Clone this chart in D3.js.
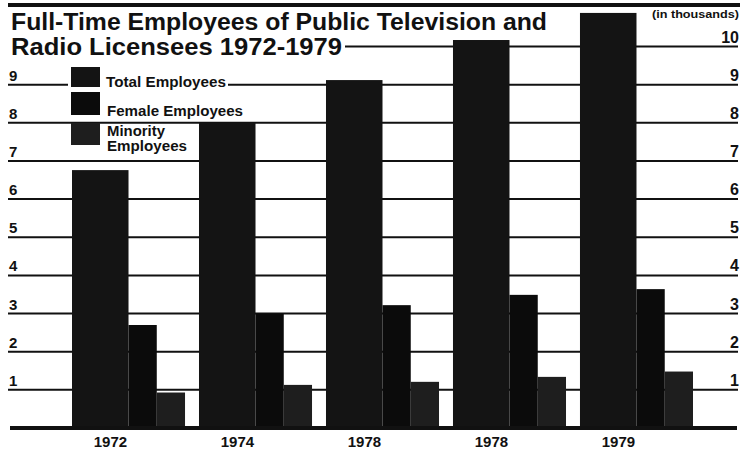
<!DOCTYPE html>
<html>
<head>
<meta charset="utf-8">
<script src="https://cdn.jsdelivr.net/npm/d3@7"></script>
<style>
  body { margin: 0; background: #fff; }
  text { font-family: "Liberation Sans", Arial, sans-serif; font-weight: bold; fill: #111; }
</style>
</head>
<body>
<div id="chart"></div>
<script>
// values in thousands
var years = ["1972", "1974", "1978", "1978", "1979"];
var totalEmployees = [6.76, 8.0, 9.12, 10.17, 10.88];
var femaleEmployees = [2.7, 2.99, 3.22, 3.49, 3.64];
var minorityEmployees = [0.93, 1.13, 1.21, 1.34, 1.48];
var seriesNames = ["Total Employees", "Female Employees", "Minority Employees"];
var leftTicks = [1, 2, 3, 4, 5, 6, 7, 8, 9];
var rightTicks = [1, 2, 3, 4, 5, 6, 7, 8, 9, 10];

function init() {
    var w = 740;
    var h = 451;

    var svg = d3.select("#chart")
        .append("svg")
        .attr("width", w)
        .attr("height", h);

    var yScale = d3.scaleLinear()
        .domain([0, 10])
        .range([428, 46.5]);

    var xScale = d3.scaleBand()
        .domain(d3.range(years.length))
        .range([72, 693])
        .paddingInner(0.11)
        .paddingOuter(0);

    // each group: wide total bar, then female and minority side by side
    var sub = d3.scaleLinear().domain([0, 1]).range([0, xScale.bandwidth()]);
    var parts = [
        { key: "total", values: totalEmployees, from: 0, to: 0.5, fill: "#141414" },
        { key: "female", values: femaleEmployees, from: 0.5, to: 0.75, fill: "#0b0b0b" },
        { key: "minority", values: minorityEmployees, from: 0.75, to: 1, fill: "#1e1e1e" }
    ];

    // top rule
    svg.append("rect")
        .attr("x", 8).attr("y", 3)
        .attr("width", w - 8).attr("height", 4)
        .attr("fill", "#111");

    // title
    svg.append("text")
        .attr("x", 11).attr("y", 30)
        .attr("font-size", 23)
        .attr("textLength", 536)
        .attr("lengthAdjust", "spacingAndGlyphs")
        .text("Full-Time Employees of Public Television and");
    svg.append("text")
        .attr("x", 11).attr("y", 55)
        .attr("font-size", 23)
        .attr("textLength", 331)
        .attr("lengthAdjust", "spacingAndGlyphs")
        .text("Radio Licensees 1972-1979");

    svg.append("text")
        .attr("x", 739).attr("y", 18)
        .attr("text-anchor", "end")
        .attr("font-size", 11.5)
        .attr("textLength", 87)
        .attr("lengthAdjust", "spacingAndGlyphs")
        .text("(in thousands)");

    // grid lines
    svg.append("g")
        .selectAll("line")
        .data(rightTicks)
        .enter()
        .append("line")
        .attr("x1", d => d === 10 ? 345 : 8)
        .attr("x2", 738)
        .attr("y1", d => yScale(d))
        .attr("y2", d => yScale(d))
        .attr("stroke", "#111")
        .attr("stroke-width", 2);

    // left labels
    svg.append("g")
        .selectAll("text")
        .data(leftTicks)
        .enter()
        .append("text")
        .attr("x", 9)
        .attr("y", d => yScale(d) - 4)
        .attr("font-size", 15)
        .text(d => d);

    // right labels
    svg.append("g")
        .selectAll("text")
        .data(rightTicks)
        .enter()
        .append("text")
        .attr("x", 739)
        .attr("y", d => yScale(d) - 4)
        .attr("text-anchor", "end")
        .attr("font-size", 16)
        .text(d => d);

    // bars
    parts.forEach(p => {
        svg.append("g")
            .selectAll("rect")
            .data(p.values)
            .enter()
            .append("rect")
            .attr("x", (d, i) => xScale(i) + sub(p.from))
            .attr("y", d => yScale(d))
            .attr("width", sub(p.to) - sub(p.from))
            .attr("height", d => yScale(0) - yScale(d))
            .attr("fill", p.fill);
    });

    // baseline
    svg.append("rect")
        .attr("x", 10).attr("y", yScale(0) - 2)
        .attr("width", 727).attr("height", 4)
        .attr("fill", "#111");

    // year labels
    svg.append("g")
        .selectAll("text")
        .data(years)
        .enter()
        .append("text")
        .attr("x", (d, i) => xScale(i) + sub(0.34))
        .attr("y", 447)
        .attr("text-anchor", "middle")
        .attr("font-size", 15)
        .text(d => d);

    // legend
    var legend = svg.append("g");
    legend.append("rect")
        .attr("x", 68).attr("y", yScale(9) - 3)
        .attr("width", 160).attr("height", 6)
        .attr("fill", "#fff");
    var swatchY = [67, 92, 123];
    var swatchH = [20, 23, 22];
    parts.forEach((p, i) => {
        legend.append("rect")
            .attr("x", 71).attr("y", swatchY[i])
            .attr("width", 29).attr("height", swatchH[i])
            .attr("fill", p.fill);
    });
    legend.append("text")
        .attr("x", 106).attr("y", 87)
        .attr("font-size", 14.5)
        .attr("textLength", 120)
        .attr("lengthAdjust", "spacingAndGlyphs")
        .text(seriesNames[0]);
    legend.append("text")
        .attr("x", 107).attr("y", 116)
        .attr("font-size", 14.5)
        .attr("textLength", 136)
        .attr("lengthAdjust", "spacingAndGlyphs")
        .text(seriesNames[1]);
    var words = seriesNames[2].split(" ");
    legend.append("text")
        .attr("x", 107).attr("y", 136)
        .attr("font-size", 14.5)
        .attr("textLength", 58)
        .attr("lengthAdjust", "spacingAndGlyphs")
        .text(words[0]);
    legend.append("text")
        .attr("x", 107).attr("y", 151)
        .attr("font-size", 14.5)
        .attr("textLength", 80)
        .attr("lengthAdjust", "spacingAndGlyphs")
        .text(words[1]);
}

window.onload = init;
</script>
</body>
</html>
